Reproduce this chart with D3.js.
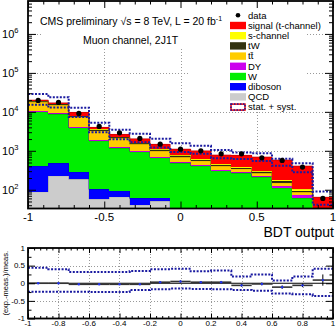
<!DOCTYPE html>
<html>
<head>
<meta charset="utf-8">
<script src="https://cdnjs.cloudflare.com/ajax/libs/d3/7.8.5/d3.min.js"></script>
<style>
body { margin: 0; background: #fff; }
text { font-family: "Liberation Sans", Arial, sans-serif; }
</style>
</head>
<body>
<div id="chart"></div>
<script>
//bin edges of the BDT output histogram
var binEdges = [-1, -0.8667, -0.7333, -0.6, -0.4667, -0.3333, -0.2, -0.0667,
    0.0667, 0.2, 0.3333, 0.4667, 0.6, 0.7333, 0.8667, 1];

//stacked backgrounds, bottom to top
var qcd     = [89, 229, 185, 58, 66, 41, 51, 10, 8, 6, 5, 4, 3, 2, 1];
var diboson = [316, 246, 100, 44, 27, 19, 11, 12, 10, 8, 6, 5, 3, 2, 1];
var wjets   = [9595, 8105, 3605, 1698, 1057, 880, 598, 453, 387, 293, 252, 199, 103, 56, 8];
var dy      = [600, 520, 180, 80, 95, 60, 30, 30, 25, 20, 16, 12, 17, 15, 3];
var ttbar   = [7100, 5700, 3230, 1380, 835, 460, 290, 171, 125, 78, 67, 43, 25, 11, 3];
var tw      = [1100, 1200, 450, 200, 160, 90, 60, 42, 35, 25, 20, 15, 13, 7, 2];
var schan   = [300, 300, 200, 90, 70, 60, 45, 40, 35, 30, 25, 22, 18, 12, 3];
var signal  = [850, 700, 1700, 430, 320, 430, 375, 342, 375, 316, 371, 390, 396, 300, 43];

//observed events
var data = [19600, 17400, 9100, 4230, 2890, 2080, 1480, 1100, 1000, 838, 838, 660, 567, 382, 60];

//relative stat. + syst. band
var bandUp   = [0.44, 0.40, 0.32, 0.32, 0.32, 0.35, 0.40, 0.41, 0.34, 0.36, 0.19, 0.25, 0.08, 0.19, 0.41];
var bandDown = [-0.24, -0.24, -0.24, -0.25, -0.25, -0.19, -0.17, -0.15, -0.16, -0.17, -0.19, -0.21, -0.29, -0.31, -0.36];

//(exp.-meas.)/meas. in the lower pad
var ratio    = [0.0, 0.0, -0.03, -0.03, -0.03, -0.03, 0.03, 0.05, 0.03, 0.03, -0.06, -0.02, -0.11, -0.06, 0.09];
var ratioErr = [0.01, 0.01, 0.01, 0.015, 0.02, 0.02, 0.025, 0.03, 0.03, 0.035, 0.035, 0.04, 0.05, 0.05, 0.16];

//tick values
var xMajor = [-1, -0.5, 0, 0.5, 1];
var xMinor = [-0.9, -0.8, -0.7, -0.6, -0.4, -0.3, -0.2, -0.1, 0.1, 0.2, 0.3, 0.4, 0.6, 0.7, 0.8, 0.9];
var yMajor = [100, 1000, 10000, 100000, 1000000];
var yExp = [2, 3, 4, 5, 6];
var ratioXTicks = [-1, -0.8, -0.6, -0.4, -0.2, 0, 0.2, 0.4, 0.6, 0.8, 1];
var ratioYTicks = [-1, -0.5, 0, 0.5, 1];

//legend
var legendLabels = ["data", "signal (t-channel)", "s-channel", "tW", "tt\u0304", "DY", "W", "diboson", "QCD", "stat. + syst."];
var legendKeys = ["data", "signal", "schan", "tw", "ttbar", "dy", "wjets", "diboson", "qcd", "band"];

var colors = {
    qcd: "#cccccc",
    diboson: "#0000ff",
    wjets: "#00ee00",
    dy: "#cc00ee",
    ttbar: "#ffcc00",
    tw: "#333311",
    schan: "#ffff00",
    signal: "#ff0000"
};
var bandColor = "#1a1aa0";

//svg dimensions
var svgWidth = 336;
var svgHeight = 327;

//pads
var mainPad = {left: 28, right: 333, top: 1, bottom: 208.5};
var ratioPad = {left: 28, right: 333, top: 248, bottom: 318.5};

var svg = d3.select("#chart")
    .append("svg")
    .attr("width", svgWidth)
    .attr("height", svgHeight);

svg.append("rect").attr("width", svgWidth).attr("height", svgHeight).attr("fill", "#fff");

//scales
var x = d3.scaleLinear().domain([-1, 1]).range([mainPad.left, mainPad.right]);
var y = d3.scaleLog().domain([33, 7e6]).range([mainPad.bottom, mainPad.top]).clamp(true);
var yRatio = d3.scaleLinear().domain([-1, 1]).range([ratioPad.bottom, ratioPad.top]);

//build table for the stack
var keys = ["qcd", "diboson", "wjets", "dy", "ttbar", "tw", "schan", "signal"];
var table = data.map(function(d, i) {
    return {
        lo: binEdges[i], hi: binEdges[i + 1],
        qcd: qcd[i], diboson: diboson[i], wjets: wjets[i], dy: dy[i],
        ttbar: ttbar[i], tw: tw[i], schan: schan[i], signal: signal[i],
        data: d
    };
});
var series = d3.stack().keys(keys)(table);
var total = table.map(function(d) { return d3.sum(keys, k => d[k]); });

// ---------- upper pad ----------
//grid lines
var grid = svg.append("g")
    .attr("stroke", "#999")
    .attr("stroke-width", 1)
    .attr("stroke-dasharray", "1,2");

grid.selectAll(".gy")
    .data([1000, 10000, 100000, 1000000])
    .enter()
    .append("line")
    .attr("x1", mainPad.left)
    .attr("x2", mainPad.right)
    .attr("y1", d => Math.round(y(d)) + 0.5)
    .attr("y2", d => Math.round(y(d)) + 0.5);

grid.selectAll(".gx")
    .data([-0.5, 0, 0.5])
    .enter()
    .append("line")
    .attr("x1", d => Math.round(x(d)) + 0.5)
    .attr("x2", d => Math.round(x(d)) + 0.5)
    .attr("y1", mainPad.top)
    .attr("y2", mainPad.bottom);

//white boxes behind the texts and the legend
svg.append("rect").attr("x", 43).attr("y", 3).attr("width", 254).attr("height", 45).attr("fill", "#fff");
svg.append("rect").attr("x", 190).attr("y", 3).attr("width", 117).attr("height", 108).attr("fill", "#fff");

//stacked histograms
var layers = svg.selectAll(".layer")
    .data(series)
    .enter()
    .append("g")
    .attr("fill", d => colors[d.key]);

layers.selectAll("rect")
    .data(d => d)
    .enter()
    .append("rect")
    .attr("shape-rendering", "crispEdges")
    .attr("x", d => x(d.data.lo))
    .attr("width", d => x(d.data.hi) - x(d.data.lo))
    .attr("y", d => y(Math.max(d[1], 1)))
    .attr("height", d => y(Math.max(d[0], 1)) - y(Math.max(d[1], 1)));

//outline on top of each layer
var stepLine = d3.line().curve(d3.curveStepAfter);

layers.append("path")
    .attr("fill", "none")
    .attr("stroke", d => d3.color(colors[d.key]).darker(0.8))
    .attr("stroke-width", 0.7)
    .attr("d", function(d) {
        var pts = d.map(p => [x(p.data.lo), y(Math.max(p[1], 1))]);
        pts.push([x(1), y(Math.max(d[d.length - 1][1], 1))]);
        return stepLine(pts);
    });

//stat + syst band
function bandPath(scaleY, vals) {
    var pts = vals.map((v, i) => [x(binEdges[i]), scaleY(v)]);
    pts.push([x(1), scaleY(vals[vals.length - 1])]);
    return stepLine(pts);
}

var bandGroup = svg.append("g")
    .attr("fill", "none")
    .attr("stroke", bandColor)
    .attr("stroke-width", 2)
    .attr("stroke-dasharray", "2,1.5");

bandGroup.append("path").attr("d", bandPath(y, total.map((t, i) => t * (1 + bandUp[i]))));
bandGroup.append("path").attr("d", bandPath(y, total.map((t, i) => t * (1 + bandDown[i]))));

//data points
var points = svg.append("g");

points.selectAll("line")
    .data(table)
    .enter()
    .append("line")
    .attr("stroke", "#000")
    .attr("x1", d => x((d.lo + d.hi) / 2))
    .attr("x2", d => x((d.lo + d.hi) / 2))
    .attr("y1", d => y(d.data + Math.sqrt(d.data)))
    .attr("y2", d => y(d.data - Math.sqrt(d.data)));

points.selectAll("circle")
    .data(table)
    .enter()
    .append("circle")
    .attr("cx", d => x((d.lo + d.hi) / 2))
    .attr("cy", d => y(d.data))
    .attr("r", 2.6)
    .attr("fill", "#000");

//frame and ticks
function tickAxis(axis, transform, values, size) {
    var g = svg.append("g")
        .attr("transform", transform)
        .call(axis.tickValues(values).tickSize(size).tickSizeOuter(0).tickFormat(""));
    g.select(".domain").remove();
    g.selectAll("line").attr("stroke-width", 1);
    return g;
}

tickAxis(d3.axisBottom(x), `translate(0, ${mainPad.bottom})`, xMajor, -7);
tickAxis(d3.axisBottom(x), `translate(0, ${mainPad.bottom})`, xMinor, -3.5);
tickAxis(d3.axisTop(x), `translate(0, ${mainPad.top})`, xMajor, -7);
tickAxis(d3.axisTop(x), `translate(0, ${mainPad.top})`, xMinor, -3.5);

var yMinor = [];
[10, 100, 1000, 10000, 100000, 1000000].forEach(function(dec) {
    [2, 3, 4, 5, 6, 7, 8, 9].forEach(function(m) {
        if (dec * m > 33 && dec * m < 7e6) yMinor.push(dec * m);
    });
});

tickAxis(d3.axisLeft(y), `translate(${mainPad.left}, 0)`, yMajor, -8);
tickAxis(d3.axisLeft(y), `translate(${mainPad.left}, 0)`, yMinor, -4);
tickAxis(d3.axisRight(y), `translate(${mainPad.right}, 0)`, yMajor, -8);
tickAxis(d3.axisRight(y), `translate(${mainPad.right}, 0)`, yMinor, -4);

svg.append("rect")
    .attr("x", mainPad.left)
    .attr("y", mainPad.top)
    .attr("width", mainPad.right - mainPad.left)
    .attr("height", mainPad.bottom - mainPad.top)
    .attr("fill", "none")
    .attr("stroke", "#000")
    .attr("stroke-width", 1.8);

//x tick labels
svg.append("g")
    .selectAll("text")
    .data(xMajor)
    .enter()
    .append("text")
    .attr("x", d => x(d))
    .attr("y", 221)
    .attr("text-anchor", "middle")
    .attr("font-size", "11.5px")
    .text(d => d);

//y tick labels 10^n
var yLabels = svg.append("g")
    .selectAll("text")
    .data(yMajor)
    .enter()
    .append("text")
    .attr("x", 18.5)
    .attr("y", d => y(d) + 4)
    .attr("font-size", "11px");

yLabels.append("tspan").attr("text-anchor", "end").text("10");
yLabels.append("tspan").attr("font-size", "7.5px").attr("dy", -5).text((d, i) => yExp[i]);

//x axis title
svg.append("text")
    .attr("x", 334)
    .attr("y", 237)
    .attr("text-anchor", "end")
    .attr("font-size", "14px")
    .text("BDT output");

//texts
var cms = svg.append("text")
    .attr("x", 40)
    .attr("y", 25)
    .attr("font-size", "10.5px")
    .text("CMS preliminary \u221As = 8 TeV, L = 20 fb");
cms.append("tspan").attr("font-size", "7px").attr("dy", -4).text("-1");

svg.append("text")
    .attr("x", 83)
    .attr("y", 44)
    .attr("font-size", "10.5px")
    .text("Muon channel, 2J1T");

//legend
var legend = svg.append("g");
legendKeys.forEach(function(key, i) {
    var ly = 15.3 + i * 10.2;
    if (key === "data") {
        legend.append("circle").attr("cx", 238).attr("cy", ly).attr("r", 2.3).attr("fill", "#000");
    }
    else if (key === "band") {
        legend.append("rect").attr("x", 231).attr("y", ly - 3).attr("width", 14).attr("height", 6)
            .attr("fill", "#fff").attr("stroke", "#e00").attr("stroke-width", 1.5);
        legend.append("rect").attr("x", 231).attr("y", ly - 3).attr("width", 14).attr("height", 6)
            .attr("fill", "none").attr("stroke", bandColor).attr("stroke-width", 1.5).attr("stroke-dasharray", "1.5,1.5");
    }
    else {
        legend.append("rect").attr("x", 230).attr("y", ly - 3.7).attr("width", 16).attr("height", 7.4)
            .attr("fill", colors[key]);
    }
    legend.append("text")
        .attr("x", 248)
        .attr("y", ly)
        .attr("dy", "0.35em")
        .attr("font-size", "9.5px")
        .text(legendLabels[i]);
});

// ---------- lower pad ----------
var rgrid = svg.append("g")
    .attr("stroke", "#999")
    .attr("stroke-width", 1)
    .attr("stroke-dasharray", "1,2");

rgrid.selectAll(".rx")
    .data(ratioXTicks.slice(1, -1).filter(d => d !== 0))
    .enter()
    .append("line")
    .attr("x1", d => Math.round(x(d)) + 0.5)
    .attr("x2", d => Math.round(x(d)) + 0.5)
    .attr("y1", ratioPad.top)
    .attr("y2", ratioPad.bottom);

rgrid.append("line")
    .attr("x1", Math.round(x(0)) + 0.5).attr("x2", Math.round(x(0)) + 0.5)
    .attr("y1", ratioPad.top).attr("y2", ratioPad.bottom);

rgrid.selectAll(".ry")
    .data([-0.5, 0.5])
    .enter()
    .append("line")
    .attr("x1", ratioPad.left)
    .attr("x2", ratioPad.right)
    .attr("y1", d => Math.round(yRatio(d)) + 0.5)
    .attr("y2", d => Math.round(yRatio(d)) + 0.5);

//zero line
svg.append("line")
    .attr("x1", ratioPad.left)
    .attr("x2", ratioPad.right)
    .attr("y1", yRatio(0))
    .attr("y2", yRatio(0))
    .attr("stroke", "#000")
    .attr("stroke-width", 1.2);

//band in the lower pad
var rband = svg.append("g")
    .attr("fill", "none")
    .attr("stroke", bandColor)
    .attr("stroke-width", 2)
    .attr("stroke-dasharray", "2,1.5");

rband.append("path").attr("d", bandPath(yRatio, bandUp));
rband.append("path").attr("d", bandPath(yRatio, bandDown));

//ratio values
var rpts = svg.append("g");

rpts.selectAll(".seg")
    .data(ratio)
    .enter()
    .append("line")
    .attr("stroke", "#333")
    .attr("stroke-width", 1.6)
    .attr("x1", (d, i) => x(binEdges[i]))
    .attr("x2", (d, i) => x(binEdges[i + 1]))
    .attr("y1", d => yRatio(d))
    .attr("y2", d => yRatio(d));

rpts.selectAll(".err")
    .data(ratio)
    .enter()
    .append("line")
    .attr("stroke", "#000")
    .attr("x1", (d, i) => x((binEdges[i] + binEdges[i + 1]) / 2))
    .attr("x2", (d, i) => x((binEdges[i] + binEdges[i + 1]) / 2))
    .attr("y1", (d, i) => yRatio(d + ratioErr[i]))
    .attr("y2", (d, i) => yRatio(d - ratioErr[i]));

rpts.selectAll("circle")
    .data(ratio)
    .enter()
    .append("circle")
    .attr("cx", (d, i) => x((binEdges[i] + binEdges[i + 1]) / 2))
    .attr("cy", d => yRatio(d))
    .attr("r", 1.2)
    .attr("fill", "#2233ee");

//ticks of the lower pad
var ratioXMinor = [];
ratioXTicks.slice(0, -1).forEach(function(t) {
    [0.04, 0.08, 0.12, 0.16].forEach(m => ratioXMinor.push(t + m));
});

tickAxis(d3.axisBottom(x), `translate(0, ${ratioPad.bottom})`, ratioXTicks, -5);
tickAxis(d3.axisBottom(x), `translate(0, ${ratioPad.bottom})`, ratioXMinor, -2.5);
tickAxis(d3.axisTop(x), `translate(0, ${ratioPad.top})`, ratioXTicks, -5);
tickAxis(d3.axisTop(x), `translate(0, ${ratioPad.top})`, ratioXMinor, -2.5);
tickAxis(d3.axisLeft(yRatio), `translate(${ratioPad.left}, 0)`, ratioYTicks, -7);
tickAxis(d3.axisLeft(yRatio), `translate(${ratioPad.left}, 0)`, [-0.75, -0.25, 0.25, 0.75], -3.5);
tickAxis(d3.axisRight(yRatio), `translate(${ratioPad.right}, 0)`, ratioYTicks, -7);
tickAxis(d3.axisRight(yRatio), `translate(${ratioPad.right}, 0)`, [-0.75, -0.25, 0.25, 0.75], -3.5);

svg.append("rect")
    .attr("x", ratioPad.left)
    .attr("y", ratioPad.top)
    .attr("width", ratioPad.right - ratioPad.left)
    .attr("height", ratioPad.bottom - ratioPad.top)
    .attr("fill", "none")
    .attr("stroke", "#000")
    .attr("stroke-width", 1.8);

//labels of the lower pad
svg.append("g")
    .selectAll("text")
    .data(ratioXTicks)
    .enter()
    .append("text")
    .attr("x", d => x(d))
    .attr("y", 326)
    .attr("text-anchor", "middle")
    .attr("font-size", "8px")
    .text(d => d);

svg.append("g")
    .selectAll("text")
    .data(ratioYTicks)
    .enter()
    .append("text")
    .attr("x", 25)
    .attr("y", d => yRatio(d))
    .attr("dy", "0.35em")
    .attr("text-anchor", "end")
    .attr("font-size", "8px")
    .text(d => d);

svg.append("text")
    .attr("transform", `translate(8, ${yRatio(0)}) rotate(-90)`)
    .attr("text-anchor", "middle")
    .attr("font-size", "7.5px")
    .text("(exp.-meas.)/meas.");
</script>
</body>
</html>
